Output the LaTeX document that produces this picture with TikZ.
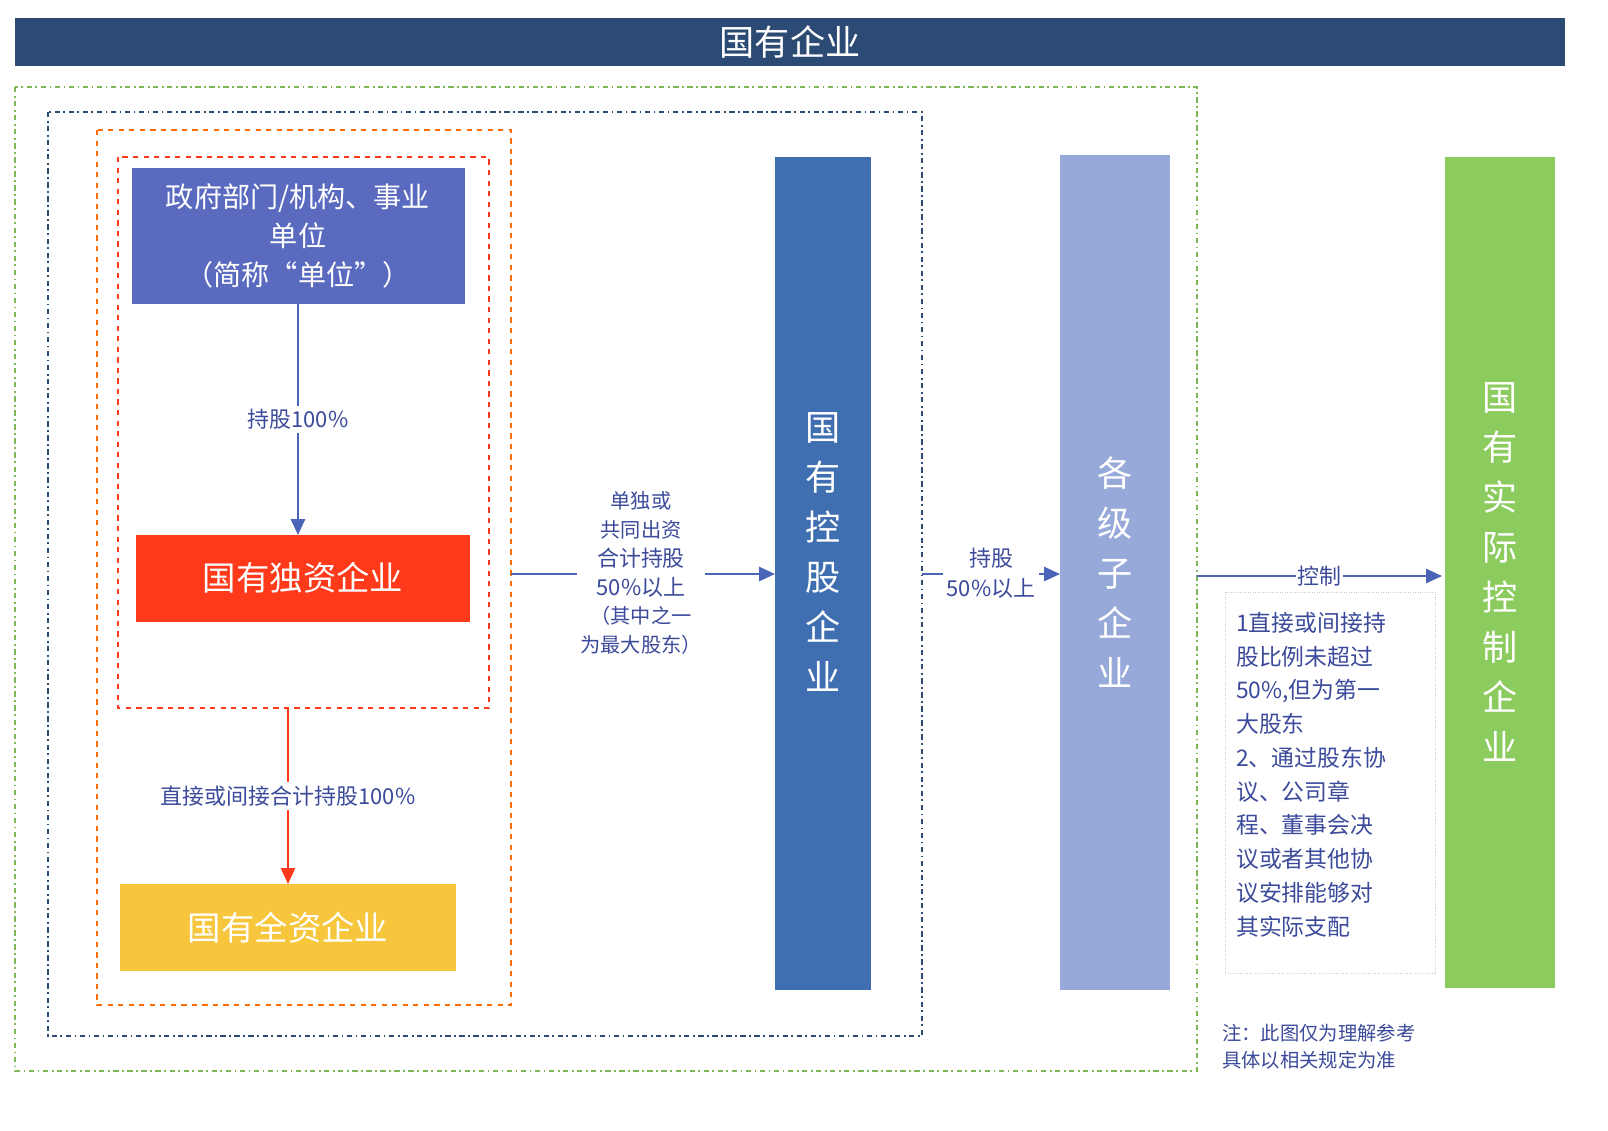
\documentclass[tikz,border=0pt]{standalone}
\usepackage{fontspec}
\setmainfont{Noto Sans CJK SC}
\usetikzlibrary{arrows.meta}
\definecolor{banner}{HTML}{2B4A74}
\definecolor{ubox}{HTML}{5A6BBF}
\definecolor{redb}{HTML}{FF3A1A}
\definecolor{yelb}{HTML}{F8C63C}
\definecolor{colA}{HTML}{3F6FB0}
\definecolor{colB}{HTML}{97A9D8}
\definecolor{colC}{HTML}{8CCB5E}
\definecolor{lab}{HTML}{3B4A9A}
\definecolor{arr}{HTML}{4A64B8}
\tikzset{
 conn/.style={draw=arr,line width=1.2pt,-{Triangle[length=9pt,width=8pt]}},
 lbl/.style={text=lab,fill=white,inner sep=2pt,align=center},
 coltext/.style={text=white,align=center,font=\fontsize{20}{28.5}\selectfont},
}
\begin{document}
\begin{tikzpicture}[x=0.02cm,y=-0.02cm]
\useasboundingbox (0,0) rectangle (1608,1130);
\fill[white] (0,0) rectangle (1608,1130);
% banner
\fill[banner] (15,18) rectangle (1565,66);
\node[text=white,font=\fontsize{20}{22}\selectfont] (ban) at (790,42) {国有企业};
% frames
\draw[color=colC!90!black,line width=1pt,dash dot] (15,87) rectangle (1197,1071);
\draw[color=banner,line width=1pt,dash dot] (48,112) rectangle (922,1036);
\draw[color=orange!85!red,line width=1.2pt,dashed] (97,130) rectangle (511,1005);
\draw[color=redb,line width=1.2pt,dashed] (118,157) rectangle (489,708);
\coordinate (redbot) at (288,708);
\coordinate (orR) at (511,574);
\coordinate (dbR) at (922,574);
\coordinate (grR) at (1197,576);
% boxes
\fill[ubox] (132,168) rectangle (465,304);
\node[text=white,align=center,font=\fontsize{16}{22}\selectfont] (unit) at (298,236) {政府部门/机构、事业\\单位\\（简称“单位”）};
\coordinate (unitb) at (298,304);
\fill[redb] (136,535) rectangle (470,622);
\node[text=white,font=\fontsize{19}{22}\selectfont] (du) at (303,578) {国有独资企业};
\coordinate (dut) at (298,535);
\fill[yelb] (120,884) rectangle (456,971);
\node[text=white,font=\fontsize{19}{22}\selectfont] (qz) at (288,928) {国有全资企业};
\coordinate (qzt) at (288,884);
% columns
\fill[colA] (775,157) rectangle (871,990);
\node[coltext] (kg) at (823,552) {国\\有\\控\\股\\企\\业};
\coordinate (kgL) at (775,574);
\fill[colB] (1060,155) rectangle (1170,990);
\node[coltext] (gj) at (1115,572) {各\\级\\子\\企\\业};
\coordinate (gjL) at (1060,574);
\fill[colC] (1445,157) rectangle (1555,988);
\node[coltext] (sj) at (1500,572) {国\\有\\实\\际\\控\\制\\企\\业};
\coordinate (sjL) at (1442,576);
% connectors
\draw[conn] (unitb) -- node[lbl,font=\fontsize{12.5}{15}\selectfont]{持股100\%} (dut);
\draw[conn,draw=redb] (redbot) -- node[lbl,font=\fontsize{12.5}{15}\selectfont]{直接或间接合计持股100\%} (qzt);
\draw[conn] (orR) -- (kgL);
\node[lbl,font=\fontsize{11.5}{16.5}\selectfont] (m1) at (641,573) {单独或\\共同出资\\{\fontsize{12.5}{18}\selectfont 合计持股}\\{\fontsize{12.5}{18}\selectfont 50\%以上}\\（其中之一\\为最大股东）};
\draw[conn] (dbR) -- (gjL);
\node[lbl,font=\fontsize{12.5}{17}\selectfont] (m2) at (991,573) {持股\\50\%以上};
\draw[conn] (grR) -- node[lbl,font=\fontsize{12.5}{15}\selectfont,inner sep=1pt]{控制} (sjL);
% note box
\draw[gray!40,densely dotted] (1225,592) rectangle (1435,973);
\node[text=lab,align=left,anchor=north west,font=\fontsize{13}{19.2}\selectfont] (nt) at (1230,606) {1直接或间接持\\股比例未超过\\50\%,但为第一\\大股东\\2、通过股东协\\议、公司章\\程、董事会决\\议或者其他协\\议安排能够对\\其实际支配};
\node[text=lab,align=left,anchor=west,font=\fontsize{11}{15.5}\selectfont] (note) at (1216,1047) {注：此图仅为理解参考\\具体以相关规定为准};
\end{tikzpicture}
\end{document}
